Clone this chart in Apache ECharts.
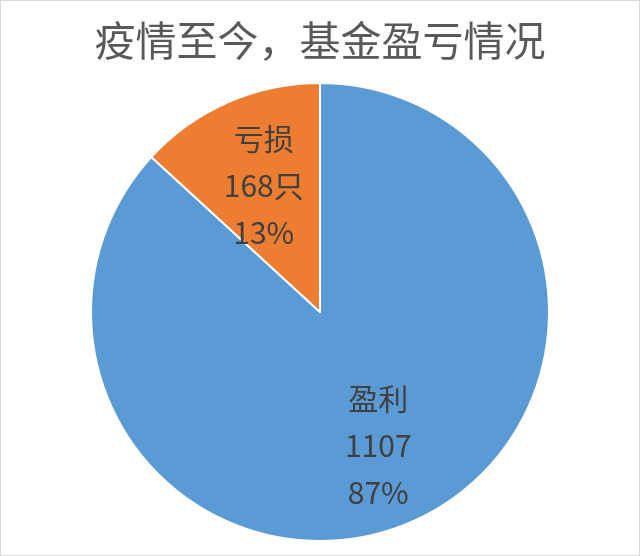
<!DOCTYPE html>
<html>
<head>
<meta charset="utf-8">
<script src="https://cdn.jsdelivr.net/npm/echarts@6/dist/echarts.min.js"></script>
<style>
html,body{margin:0;padding:0;background:#fff;}
#chart{position:absolute;left:0;top:0;width:640px;height:556px;}
#frame{position:absolute;left:0;top:0;width:640px;height:556px;box-sizing:border-box;border:1px solid #d9d9d9;pointer-events:none;}
</style>
</head>
<body>
<div id="chart"></div>
<div id="frame"></div>
<script>
const titleText = '疫情至今，基金盈亏情况';
const categories = ['盈利', '亏损'];
const values = [1107, 168];
const units = ['', '只'];
const colors = ['#5B9BD5', '#ED7D31'];
const labelOffsets = [[11, 26], [-9, -19]];

const chart = echarts.init(document.getElementById('chart'), null, {renderer: 'canvas'});
const data = categories.map((c, i) => ({
  name: c,
  value: values[i],
  itemStyle: {color: colors[i]},
  label: {offset: labelOffsets[i]}
}));
chart.setOption({
  animation: false,
  title: {
    text: titleText,
    left: 'center',
    top: 15,
    textStyle: {fontFamily: 'Noto Sans CJK SC', fontSize: 41, fontWeight: 'normal', color: '#595959'}
  },
  series: [{
    type: 'pie',
    center: [320, 312],
    radius: [0, 229],
    startAngle: 90,
    clockwise: true,
    percentPrecision: 0,
    avoidLabelOverlap: false,
    itemStyle: {borderColor: '#fff', borderWidth: 2},
    label: {
      show: true,
      position: 'inside',
      formatter: p => p.name + '\n' + p.value + units[p.dataIndex] + '\n' + p.percent + '%',
      fontFamily: 'Noto Sans CJK SC',
      fontSize: 30,
      lineHeight: 47,
      color: '#404040'
    },
    labelLine: {show: false},
    emphasis: {disabled: true},
    data: data
  }]
});
</script>
</body>
</html>
